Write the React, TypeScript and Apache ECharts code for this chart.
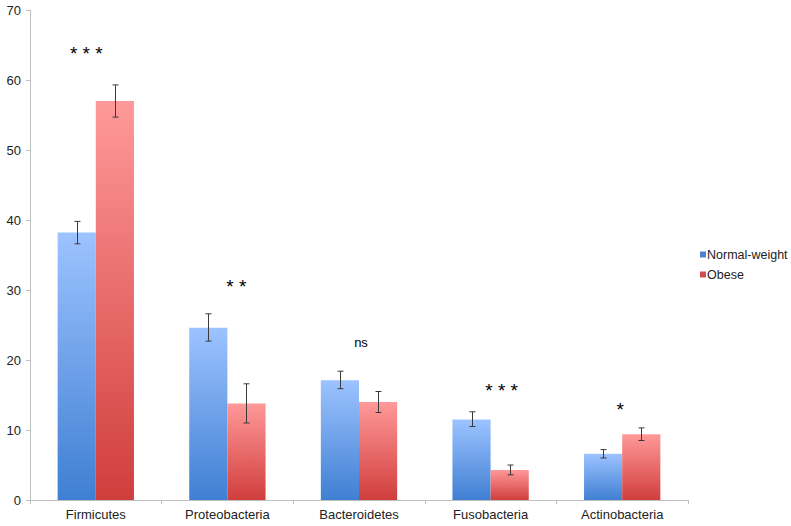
import React, { useEffect, useRef } from "react";
import * as echarts from "echarts";

const categories = ["Firmicutes", "Proteobacteria", "Bacteroidetes", "Fusobacteria", "Actinobacteria"];
const normalValues = [38.2, 24.6, 17.1, 11.5, 6.6];
const normalLow = [36.6, 22.7, 15.9, 10.5, 6.0];
const normalHigh = [39.8, 26.6, 18.4, 12.6, 7.2];
const obeseValues = [57.0, 13.8, 14.0, 4.3, 9.4];
const obeseLow = [54.7, 11.0, 12.5, 3.6, 8.5];
const obeseHigh = [59.3, 16.6, 15.5, 5.0, 10.3];
const sigLabels = ["* * *", "* *", "ns", "* * *", "*"];
const sigY = [63.8, 30.5, 22.5, 15.6, 13.0];
const sigDx = [-9.5, 9, 2, 11, -2];
const yTicks = [0, 10, 20, 30, 40, 50, 60, 70];

const CAT_GAP = 0.42;
const FONT = "Liberation Sans, Arial, sans-serif";

function errorSeries(name: string, low: number[], high: number[], side: number) {
  return {
    type: "custom",
    name: name + "-err",
    silent: true,
    z: 5,
    data: categories.map((_, i) => [i, low[i], high[i]]),
    encode: { x: 0, y: [1, 2] },
    renderItem: (params: any, api: any) => {
      const i = api.value(0);
      const lo = api.coord([i, api.value(1)]);
      const hi = api.coord([i, api.value(2)]);
      const catW = api.size([1, 0])[0];
      const bw = (catW * (1 - CAT_GAP)) / 2;
      const x = Math.round(lo[0] + (side * bw) / 2) + 0.5;
      const cap = 3;
      const style = { stroke: "#3a3a3a", lineWidth: 1, fill: null };
      return {
        type: "group",
        children: [
          { type: "line", shape: { x1: x, y1: lo[1], x2: x, y2: hi[1] }, style },
          { type: "line", shape: { x1: x - cap, y1: lo[1], x2: x + cap, y2: lo[1] }, style },
          { type: "line", shape: { x1: x - cap, y1: hi[1], x2: x + cap, y2: hi[1] }, style },
        ],
      };
    },
  };
}

export default function App() {
  const ref = useRef<HTMLDivElement>(null);
  useEffect(() => {
    const chart = echarts.init(ref.current!, null, { renderer: "svg" });
    const blue = new echarts.graphic.LinearGradient(0, 0, 0, 1, [
      { offset: 0, color: "#9dc3ff" },
      { offset: 1, color: "#3f7fd3" },
    ]);
    const red = new echarts.graphic.LinearGradient(0, 0, 0, 1, [
      { offset: 0, color: "#ff9999" },
      { offset: 1, color: "#d03e3c" },
    ]);
    chart.setOption({
      animation: false,
      textStyle: { fontFamily: FONT },
      grid: { left: 30, right: 103, top: 10, bottom: 26, containLabel: false },
      legend: {
        orient: "vertical",
        left: 700,
        top: 248,
        padding: 0,
        icon: "rect",
        itemWidth: 6,
        itemHeight: 6,
        itemGap: 7,
        textStyle: { fontSize: 12.5, color: "#222", padding: [0, 0, 0, -4] },
        data: [
          { name: "Normal-weight", itemStyle: { color: "#4f81d0" } },
          { name: "Obese", itemStyle: { color: "#d0504d" } },
        ],
      },
      xAxis: {
        type: "category",
        data: categories,
        axisLine: { lineStyle: { color: "#bfbfbf" } },
        axisTick: { show: true, length: 4, lineStyle: { color: "#bfbfbf" } },
        axisLabel: { fontSize: 13, color: "#222", margin: 8 },
      },
      yAxis: {
        type: "value",
        min: yTicks[0],
        max: yTicks[yTicks.length - 1],
        interval: 10,
        splitLine: { show: false },
        axisLine: { show: true, lineStyle: { color: "#bfbfbf" } },
        axisTick: { show: true, length: 4, lineStyle: { color: "#bfbfbf" } },
        axisLabel: { fontSize: 13, color: "#222", margin: 9 },
      },
      series: [
        {
          name: "Normal-weight",
          type: "bar",
          data: normalValues,
          barGap: "0%",
          barCategoryGap: CAT_GAP * 100 + "%",
          itemStyle: { color: blue },
        },
        {
          name: "Obese",
          type: "bar",
          data: obeseValues,
          barGap: "0%",
          barCategoryGap: CAT_GAP * 100 + "%",
          itemStyle: { color: red },
        },
        errorSeries("Normal-weight", normalLow, normalHigh, -1),
        errorSeries("Obese", obeseLow, obeseHigh, 1),
        {
          type: "custom",
          name: "sig",
          silent: true,
          z: 6,
          data: categories.map((_, i) => [i, sigY[i]]),
          encode: { x: 0, y: 1 },
          renderItem: (params: any, api: any) => {
            const idx = params.dataIndex;
            const p = api.coord([api.value(0), api.value(1)]);
            const label = sigLabels[idx];
            return {
              type: "text",
              x: p[0] + sigDx[idx],
              y: p[1],
              style: {
                text: label,
                fill: "#000",
                font: (label === "ns" ? "13px " : "19px ") + FONT,
                align: "center",
                verticalAlign: "middle",
              },
            };
          },
        },
      ],
    });
    return () => chart.dispose();
  }, []);
  return <div ref={ref} style={{ width: 791, height: 526, position: "absolute", left: 0, top: 0 }} />;
}
